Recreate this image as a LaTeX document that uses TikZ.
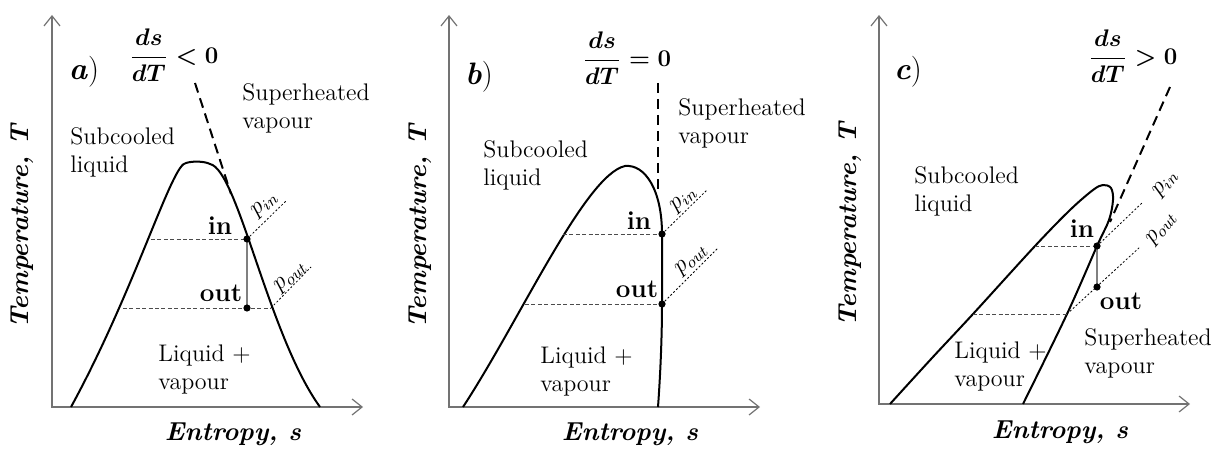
\documentclass[tikz,border=0pt]{standalone}
\usepackage{amsmath}
\usetikzlibrary{arrows.meta}
\begin{document}
\begin{tikzpicture}[x=0.5pt, y=-0.5pt,
  font=\fontsize{12}{14}\selectfont,
  ax/.style={draw=black!55, line width=0.6pt,
             {Straight Barb[length=5pt,width=8pt]}-{Straight Barb[length=5pt,width=8pt]}},
  dome/.style={line width=1pt, line join=round},
  slope/.style={line width=1pt, dashed, dash pattern=on 5pt off 3pt},
  lvl/.style={black!70, line width=0.5pt, dash pattern=on 2pt off 1.2pt},
  isobar/.style={line width=0.4pt, dash pattern=on 1pt off 1pt},
  expn/.style={black!50, line width=0.6pt},
  txt/.style={anchor=west, align=left, inner sep=0pt},
  pt/.style={font=\fontsize{13}{15}\selectfont\bfseries, inner sep=0pt},
  plbl/.style={inner sep=0pt},
  axlbl/.style={font=\fontsize{13}{15}\selectfont\bfseries\itshape},
  tag/.style={font=\fontsize{15.5}{17}\selectfont},
  frac/.style={font=\fontsize{12.5}{14}\selectfont\boldmath}]
\useasboundingbox (0,0) rectangle (1221,449);

% --- a) ---
\coordinate (a-o) at (52,407); \coordinate (a-t) at (52,15); \coordinate (a-r) at (363,407);
\draw[ax] (a-t) -- (a-o) -- (a-r);
\coordinate (a-l) at (71,407); \coordinate (a-rb) at (320,407);
\draw[dome] (a-l) .. controls (135,290) and (172,163) .. (186,163)
  .. controls (192,161) and (204,161) .. (210,164)
  .. controls (238,170) and (268,335) .. (a-rb);
\coordinate (a-s1) at (195,83); \coordinate (a-s2) at (231,194);
\draw[slope] (a-s1) -- (a-s2);
\coordinate (a-in) at (247,239); \coordinate (a-out) at (247,308);
\coordinate (a-inl) at (151,239); \coordinate (a-outl) at (123,308); \coordinate (a-outr) at (271,308);
\coordinate (a-pin) at (287,200); \coordinate (a-pout) at (311,267);
\draw[lvl] (a-inl) -- (a-in); \draw[lvl] (a-outl) -- (a-outr);
\draw[expn] (a-in) -- (a-out);
\draw[isobar] (a-in) -- (a-pin); \draw[isobar] (a-outr) -- (a-pout);
\fill (a-in) circle[radius=1.8pt]; \fill (a-out) circle[radius=1.8pt];
\node[pt] (a-inlbl) at (220,226) {in};
\node[pt] (a-outlbl) at (221,293) {out};
\node[plbl, rotate=42] (a-pinlbl) at (265,205) {$p_{in}$};
\node[plbl, rotate=42] (a-poutlbl) at (291,277) {$p_{out}$};
\node[tag] (a-tag) at (84,72) {\textbf{\textit{a}})};
\node[frac] (a-frac) at (174,55) {$\displaystyle\frac{ds}{dT}<0$};
\node[txt] (a-sup) at (242,108) {Superheated\\vapour};
\node[txt] (a-sub) at (70,152) {Subcooled\\liquid};
\node[txt] (a-mix) at (158,369) {Liquid +\\vapour};
\node[axlbl, rotate=90] (a-ylbl) at (22,227) {Temperature, T};
\node[axlbl] (a-xlbl) at (233,434) {Entropy, s};

% --- b) ---
\coordinate (b-o) at (449,407); \coordinate (b-t) at (449,15); \coordinate (b-r) at (760,407);
\draw[ax] (b-t) -- (b-o) -- (b-r);
\coordinate (b-l) at (463,407); \coordinate (b-top) at (625,166); \coordinate (b-rb) at (658,407);
\coordinate (b-in) at (662,234); \coordinate (b-out) at (662,304);
\draw[dome] (b-l) .. controls (520,320) and (585,175) .. (b-top)
  .. controls (645,164) and (662,190) .. (b-in) -- (b-out)
  .. controls (662,340) and (660,380) .. (b-rb);
\coordinate (b-s1) at (658,83); \coordinate (b-s2) at (658,190);
\draw[slope] (b-s1) -- (b-s2);
\coordinate (b-inl) at (563,234); \coordinate (b-outl) at (525,304);
\coordinate (b-pin) at (707,190); \coordinate (b-pout) at (718,248);
\draw[lvl] (b-inl) -- (b-in); \draw[lvl] (b-outl) -- (b-out);
\draw[isobar] (b-in) -- (b-pin); \draw[isobar] (b-out) -- (b-pout);
\fill (b-in) circle[radius=1.8pt]; \fill (b-out) circle[radius=1.8pt];
\node[pt] (b-inlbl) at (639,221) {in};
\node[pt] (b-outlbl) at (637,289) {out};
\node[plbl, rotate=42] (b-pinlbl) at (684,200) {$p_{in}$};
\node[plbl, rotate=42] (b-poutlbl) at (692,260) {$p_{out}$};
\node[tag] (b-tag) at (479,77) {\textbf{\textit{b}})};
\node[frac] (b-frac) at (627,58) {$\displaystyle\frac{ds}{dT}=0$};
\node[txt] (b-sup) at (678,123) {Superheated\\vapour};
\node[txt] (b-sub) at (483,165) {Subcooled\\liquid};
\node[txt] (b-mix) at (540,371) {Liquid +\\vapour};
\node[axlbl, rotate=90] (b-ylbl) at (420,227) {Temperature, T};
\node[axlbl] (b-xlbl) at (630,434) {Entropy, s};

% --- c) ---
\coordinate (c-o) at (879,404); \coordinate (c-t) at (879,15); \coordinate (c-r) at (1190,404);
\draw[ax] (c-t) -- (c-o) -- (c-r);
\draw[dome] plot[smooth, tension=0.55] coordinates {(890,404) (932,358) (973,314) (1035,246)
  (1070,210) (1093,190) (1103,185) (1111,188) (1113,200) (1109,220) (1097,246) (1067,314) (1023,404)};
\coordinate (c-s1) at (1170,87); \coordinate (c-s2) at (1110,222);
\draw[slope] (c-s1) -- (c-s2);
\coordinate (c-in) at (1097,246); \coordinate (c-out) at (1097,287);
\coordinate (c-inl) at (1035,246); \coordinate (c-outl) at (973,314); \coordinate (c-outr) at (1067,314);
\coordinate (c-pin) at (1143,202); \coordinate (c-pout) at (1140,247);
\draw[lvl] (c-inl) -- (c-in); \draw[lvl] (c-outl) -- (c-outr);
\draw[expn] (c-in) -- (c-out);
\draw[isobar] (c-in) -- (c-pin); \draw[isobar] (c-outr) -- (c-pout);
\fill (c-in) circle[radius=1.8pt]; \fill (c-out) circle[radius=1.8pt];
\node[pt] (c-inlbl) at (1082,229) {in};
\node[pt] (c-outlbl) at (1121,301) {out};
\node[plbl, rotate=50] (c-pinlbl) at (1166,184) {$p_{in}$};
\node[plbl, rotate=50] (c-poutlbl) at (1162,229) {$p_{out}$};
\node[tag] (c-tag) at (908,72) {\textbf{\textit{c}})};
\node[frac] (c-frac) at (1133,56) {$\displaystyle\frac{ds}{dT}>0$};
\node[txt] (c-sup) at (1084,353) {Superheated\\vapour};
\node[txt] (c-sub) at (914,191) {Subcooled\\liquid};
\node[txt] (c-mix) at (954,366) {Liquid +\\vapour};
\node[axlbl, rotate=90] (c-ylbl) at (850,225) {Temperature, T};
\node[axlbl] (c-xlbl) at (1060,432) {Entropy, s};
\end{tikzpicture}
\end{document}
